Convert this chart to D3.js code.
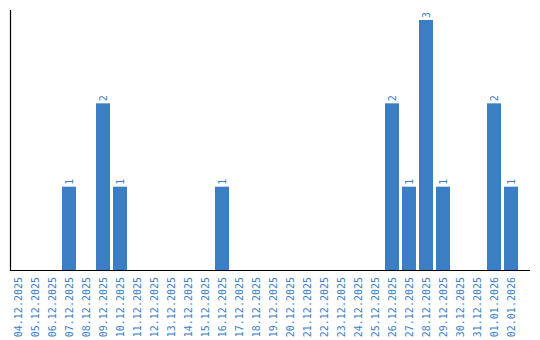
<!DOCTYPE html>
<html><head><meta charset="utf-8">
<script src="https://cdn.jsdelivr.net/npm/d3@7"></script>
<style>body{margin:0;background:#fff}svg{display:block}</style>
</head><body>
<svg id="c" width="540" height="340"></svg>
<script>
const categories = ["04.12.2025","05.12.2025","06.12.2025","07.12.2025","08.12.2025","09.12.2025","10.12.2025","11.12.2025","12.12.2025","13.12.2025","14.12.2025","15.12.2025","16.12.2025","17.12.2025","18.12.2025","19.12.2025","20.12.2025","21.12.2025","22.12.2025","23.12.2025","24.12.2025","25.12.2025","26.12.2025","27.12.2025","28.12.2025","29.12.2025","30.12.2025","31.12.2025","01.01.2026","02.01.2026"];
const values = [0,0,0,1,0,2,1,0,0,0,0,0,1,0,0,0,0,0,0,0,0,0,2,1,3,1,0,0,2,1];

const color = "#3b7ec3";
const font = "'DejaVu Sans Mono', monospace";
const svg = d3.select("#c");
const x = d3.scaleBand().domain(categories).range([11, 518]).paddingInner(3/17).paddingOuter(0);
const y = d3.scaleLinear().domain([0, 3]).range([270, 20]);

const data = categories.map((c, i) => ({c, v: values[i]}));

svg.selectAll("rect.bar").data(data.filter(d => d.v > 0)).enter().append("rect")
  .attr("class", "bar")
  .attr("x", d => x(d.c)).attr("width", x.bandwidth())
  .attr("y", d => y(d.v)).attr("height", d => y(0) - y(d.v))
  .attr("fill", color);

svg.selectAll("text.val").data(data.filter(d => d.v > 0)).enter().append("text")
  .attr("class", "val")
  .attr("transform", d => `translate(${x(d.c) + x.bandwidth()/2},${y(d.v) - 2}) rotate(-90)`)
  .attr("dy", "0.35em")
  .attr("text-anchor", "start")
  .attr("font-family", font).attr("font-size", 10)
  .attr("fill", color)
  .text(d => d.v);

// x axis
const xAxis = d3.axisBottom(x).tickSize(0).tickSizeOuter(0);
const gx = svg.append("g").attr("transform", "translate(0,270)").call(xAxis);
gx.select(".domain").remove();
gx.selectAll(".tick text")
  .attr("transform", "rotate(-90)")
  .attr("x", -7).attr("y", 0).attr("dy", "0.35em")
  .attr("text-anchor", "end")
  .attr("font-family", font).attr("font-size", 10)
  .attr("fill", color);

svg.append("line").attr("x1", 10).attr("x2", 530).attr("y1", 270.5).attr("y2", 270.5)
  .attr("stroke", "#000").attr("stroke-width", 1.2);
svg.append("line").attr("x1", 10.5).attr("x2", 10.5).attr("y1", 10).attr("y2", 271)
  .attr("stroke", "#000").attr("stroke-width", 1.2);
</script>
</body></html>
